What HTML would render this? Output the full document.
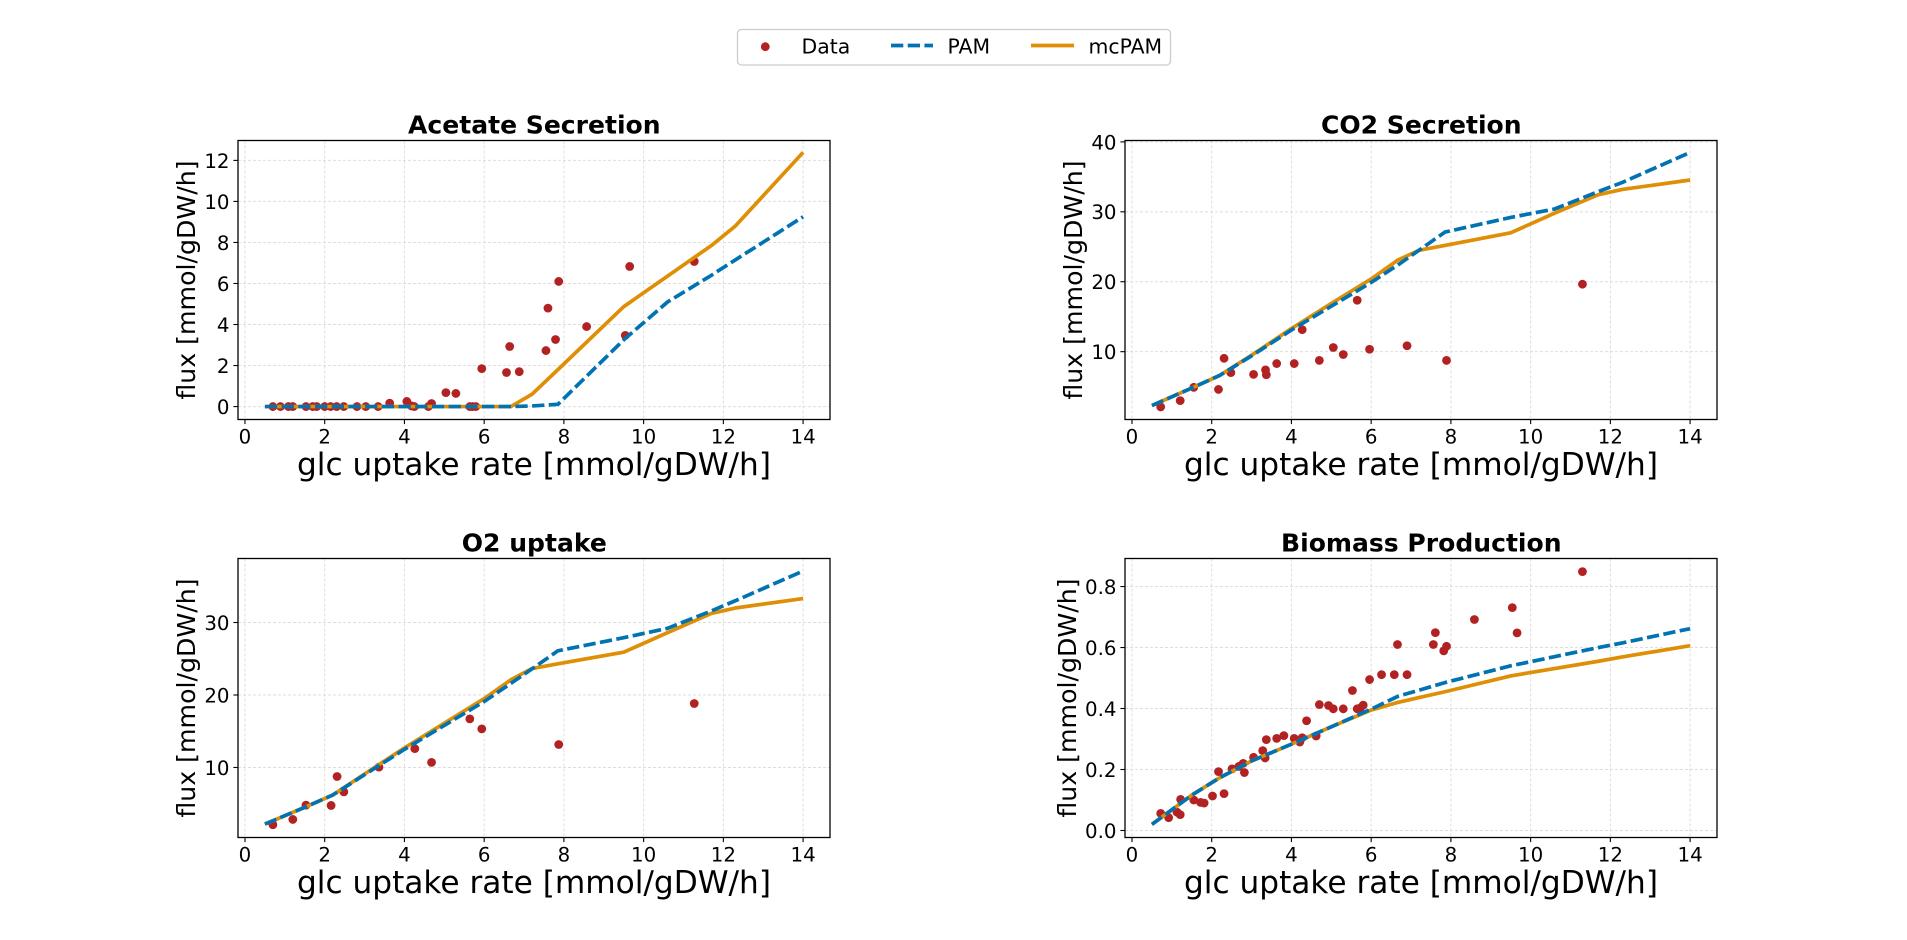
<!DOCTYPE html>
<html lang="en">
<head>
<meta charset="utf-8">
<title>Flux vs glucose uptake rate</title>
<style>
html,body{margin:0;padding:0;background:#fff;}
svg{display:block;}
text{font-family:"DejaVu Sans","Liberation Sans",sans-serif;fill:#000;}
</style>
</head>
<body>
<svg id="figure" xmlns="http://www.w3.org/2000/svg" width="1907" height="940" viewBox="0 0 1907 940">
  <g>
    <rect x="737.5" y="29.5" width="433" height="35.5" rx="4" fill="#fff" stroke="#ccc" stroke-width="1.3"/>
    <circle cx="765.3" cy="46.7" r="4.4" fill="#b22222"/>
    <text x="801.5" y="53.7" font-size="20.4">Data</text>
    <line x1="891" y1="45.5" x2="933" y2="45.5" stroke="#0173b2" stroke-width="3.7" stroke-dasharray="12.3 4.4"/>
    <text x="947.5" y="53.7" font-size="20.4">PAM</text>
    <line x1="1031" y1="45.5" x2="1074" y2="45.5" stroke="#de8f05" stroke-width="3.7"/>
    <text x="1088.5" y="53.7" font-size="20.4">mcPAM</text>
  </g>
</svg>
<script>
// Shared x grid of the simulated model lines
const glcUptake = [0.5,1.5,2.2,3,4,5,6,6.67,7.2,7.85,9.5,10.6,11.7,12.3,14];
const xTicks = [0,2,4,6,8,10,12,14];

// Acetate secretion
const acetateDataX = [0.70,0.89,1.09,1.2,1.53,1.7,1.8,2.0,2.15,2.3,2.48,2.81,3.03,3.34,3.63,4.06,4.18,4.25,4.6,4.68,5.04,5.29,5.64,5.71,5.79,5.94,6.56,6.64,6.88,7.55,7.6,7.79,7.87,8.57,9.54,9.65,11.27];
const acetateDataY = [0,0,0,0,0,0,0,0,0,0,0,0,0,0,0.17,0.25,0.03,0,0,0.15,0.68,0.64,0,0,0,1.85,1.66,2.93,1.7,2.73,4.8,3.27,6.1,3.9,3.47,6.83,7.07];
const acetatePam = [0,0,0,0,0,0,0,0,0.03,0.11,3.25,5.1,6.4,7.15,9.25];
const acetateMcPam = [0,0,0,0,0,0,0,0,0.6,1.8,4.87,6.36,7.85,8.8,12.39];
const acetateYTicks = [0,2,4,6,8,10,12];

// CO2 secretion
const co2DataX = [0.72,1.21,1.55,2.17,2.31,2.48,3.05,3.35,3.37,3.63,4.07,4.27,4.7,5.05,5.3,5.65,5.96,6.9,7.89,11.3];
const co2DataY = [2.1,3.0,4.9,4.6,9.05,7.0,6.75,7.4,6.7,8.3,8.3,13.15,8.75,10.6,9.6,17.35,10.35,10.85,8.75,19.65];
const co2Pam = [2.3,4.8,6.6,9.4,13.1,16.5,19.9,22.4,24.5,27.1,29.2,30.4,32.9,34.2,38.5];
const co2McPam = [2.3,4.8,6.6,9.5,13.3,16.9,20.4,23.1,24.5,25.2,27,29.8,32.45,33.2,34.55];
const co2YTicks = [10,20,30,40];

// O2 uptake
const o2DataX = [0.7,1.2,1.53,2.16,2.31,2.48,3.36,4.26,4.68,5.64,5.94,7.87,11.27];
const o2DataY = [2.1,2.83,4.8,4.76,8.76,6.64,10.05,12.6,10.7,16.7,15.33,13.17,18.83];
const o2Pam = [2.2,4.5,6.2,9,12.5,15.8,19.1,21.6,23.6,26.1,27.9,29.2,31.6,33,37.1];
const o2McPam = [2.2,4.5,6.2,9.1,12.7,16.1,19.5,22.1,23.65,24.3,25.9,28.6,31.25,32,33.3];
const o2YTicks = [10,20,30];

// Biomass production
const biomassDataX = [0.72,0.92,1.13,1.21,1.22,1.55,1.72,1.81,2.02,2.17,2.31,2.51,2.68,2.79,2.82,3.05,3.28,3.34,3.37,3.63,3.81,4.07,4.21,4.27,4.38,4.62,4.7,4.93,5.05,5.3,5.53,5.65,5.73,5.8,5.96,6.26,6.58,6.66,6.9,7.56,7.61,7.82,7.89,8.59,9.54,9.66,11.3];
const biomassDataY = [0.056,0.042,0.06,0.052,0.102,0.1,0.092,0.09,0.113,0.193,0.121,0.202,0.21,0.22,0.19,0.24,0.262,0.238,0.298,0.302,0.311,0.302,0.29,0.304,0.36,0.31,0.413,0.41,0.399,0.399,0.459,0.399,0.402,0.411,0.495,0.511,0.511,0.61,0.511,0.61,0.649,0.589,0.604,0.692,0.731,0.648,0.849];
const biomassPam = [0.02,0.116,0.173,0.228,0.283,0.34,0.398,0.44,0.46,0.485,0.54,0.57,0.6,0.615,0.662];
const biomassMcPam = [0.02,0.116,0.173,0.228,0.283,0.34,0.395,0.42,0.436,0.455,0.507,0.531,0.555,0.569,0.606];
const biomassYTicks = [0,0.2,0.4,0.6,0.8];

const SVG_NS = 'http://www.w3.org/2000/svg';
const figure = document.getElementById('figure');

function make(parent, tag, attrs) {
  const el = document.createElementNS(SVG_NS, tag);
  for (const k in attrs) el.setAttribute(k, attrs[k]);
  parent.appendChild(el);
  return el;
}

function drawPanel(p) {
  const xScale = v => p.left + (v - p.xMin) / (p.xMax - p.xMin) * p.width;
  const yScale = v => p.top + p.height - (v - p.yMin) / (p.yMax - p.yMin) * p.height;
  const bottom = p.top + p.height;
  const right = p.left + p.width;

  const g = make(figure, 'g', {});
  
  

  // grid and ticks
  xTicks.forEach(t => {
    const x = xScale(t);
    const grid = make(g, 'line', {x1:x, x2:x, y1:p.top, y2:bottom, stroke:'#dedede', 'stroke-width':1, 'stroke-dasharray':'3 2'});
    
    
    const tick = make(g, 'line', {x1:x, x2:x, y1:bottom, y2:bottom + 4.6, stroke:'#000', 'stroke-width':1.1});
    
    
    const label = make(g, 'text', {x:x, y:bottom + 23.8, 'font-size':p.tickFont, 'text-anchor':'middle'});
    label.textContent = String(t);
    
    
  });
  p.yTicks.forEach(t => {
    const y = yScale(t);
    const grid = make(g, 'line', {x1:p.left, x2:right, y1:y, y2:y, stroke:'#dedede', 'stroke-width':1, 'stroke-dasharray':'3 2'});
    
    
    const tick = make(g, 'line', {x1:p.left - 4.6, x2:p.left, y1:y, y2:y, stroke:'#000', 'stroke-width':1.1});
    
    
    const label = make(g, 'text', {x:p.left - 8.5, y:y + 7.4, 'font-size':p.tickFont, 'text-anchor':'end'});
    label.textContent = p.decimals ? t.toFixed(p.decimals) : String(t);
    
    
  });

  // data points
  p.dataX.forEach((vx, i) => {
    const dot = make(g, 'circle', {cx:xScale(vx), cy:yScale(p.dataY[i]), r:4.4, fill:'#b22222'});
    
    
  });

  // model lines
  const toPoints = vals => glcUptake.map((vx, i) => xScale(vx).toFixed(2) + ',' + yScale(vals[i]).toFixed(2)).join(' ');
  const mc = make(g, 'polyline', {points:toPoints(p.mcPam), fill:'none', stroke:'#de8f05', 'stroke-width':3.7, 'stroke-linejoin':'round'});
  
  
  const pam = make(g, 'polyline', {points:toPoints(p.pam), fill:'none', stroke:'#0173b2', 'stroke-width':3.7, 'stroke-dasharray':'12.3 4.4', 'stroke-linejoin':'round'});
  
  

  // spines
  const frame = make(g, 'rect', {x:p.left, y:p.top, width:p.width, height:p.height, fill:'none', stroke:'#000', 'stroke-width':1.3});
  
  

  // labels
  const title = make(g, 'text', {x:p.left + p.width / 2 + 0.3, y:p.top - 6.8, 'font-size':25.05, 'font-weight':'bold', 'text-anchor':'middle'});
  title.textContent = p.title;
  
  

  const xLabel = make(g, 'text', {x:p.left + p.width / 2, y:bottom + 55.5, 'font-size':31.2, 'text-anchor':'middle'});
  xLabel.textContent = 'glc uptake rate [mmol/gDW/h]';
  
  

  const yc = p.top + p.height / 2;
  const yLabel = make(g, 'text', {x:p.yLabelX, y:yc, 'font-size':25.2, 'text-anchor':'middle', transform:'rotate(-90 ' + p.yLabelX + ' ' + yc + ')'});
  yLabel.textContent = 'flux [mmol/gDW/h]';
  
  
}

const common = {width:592, height:279, xMin:-0.175, xMax:14.675, tickFont:19.8};

drawPanel(Object.assign({}, common, {slug:'acetate', title:'Acetate Secretion', left:238, top:140.5, yMin:-0.63, yMax:12.97, yTicks:acetateYTicks, dataX:acetateDataX, dataY:acetateDataY, pam:acetatePam, mcPam:acetateMcPam, yLabelX:195}));
drawPanel(Object.assign({}, common, {slug:'co2', title:'CO2 Secretion', left:1125, top:140.5, yMin:0.3, yMax:40.2, yTicks:co2YTicks, dataX:co2DataX, dataY:co2DataY, pam:co2Pam, mcPam:co2McPam, yLabelX:1082}));
drawPanel(Object.assign({}, common, {slug:'o2', title:'O2 uptake', left:238, top:558.5, yMin:0.34, yMax:38.83, yTicks:o2YTicks, dataX:o2DataX, dataY:o2DataY, pam:o2Pam, mcPam:o2McPam, yLabelX:195}));
drawPanel(Object.assign({}, common, {slug:'biomass', title:'Biomass Production', left:1125, top:558.5, yMin:-0.023, yMax:0.892, yTicks:biomassYTicks, decimals:1, dataX:biomassDataX, dataY:biomassDataY, pam:biomassPam, mcPam:biomassMcPam, yLabelX:1076}));
</script>
</body>
</html>
